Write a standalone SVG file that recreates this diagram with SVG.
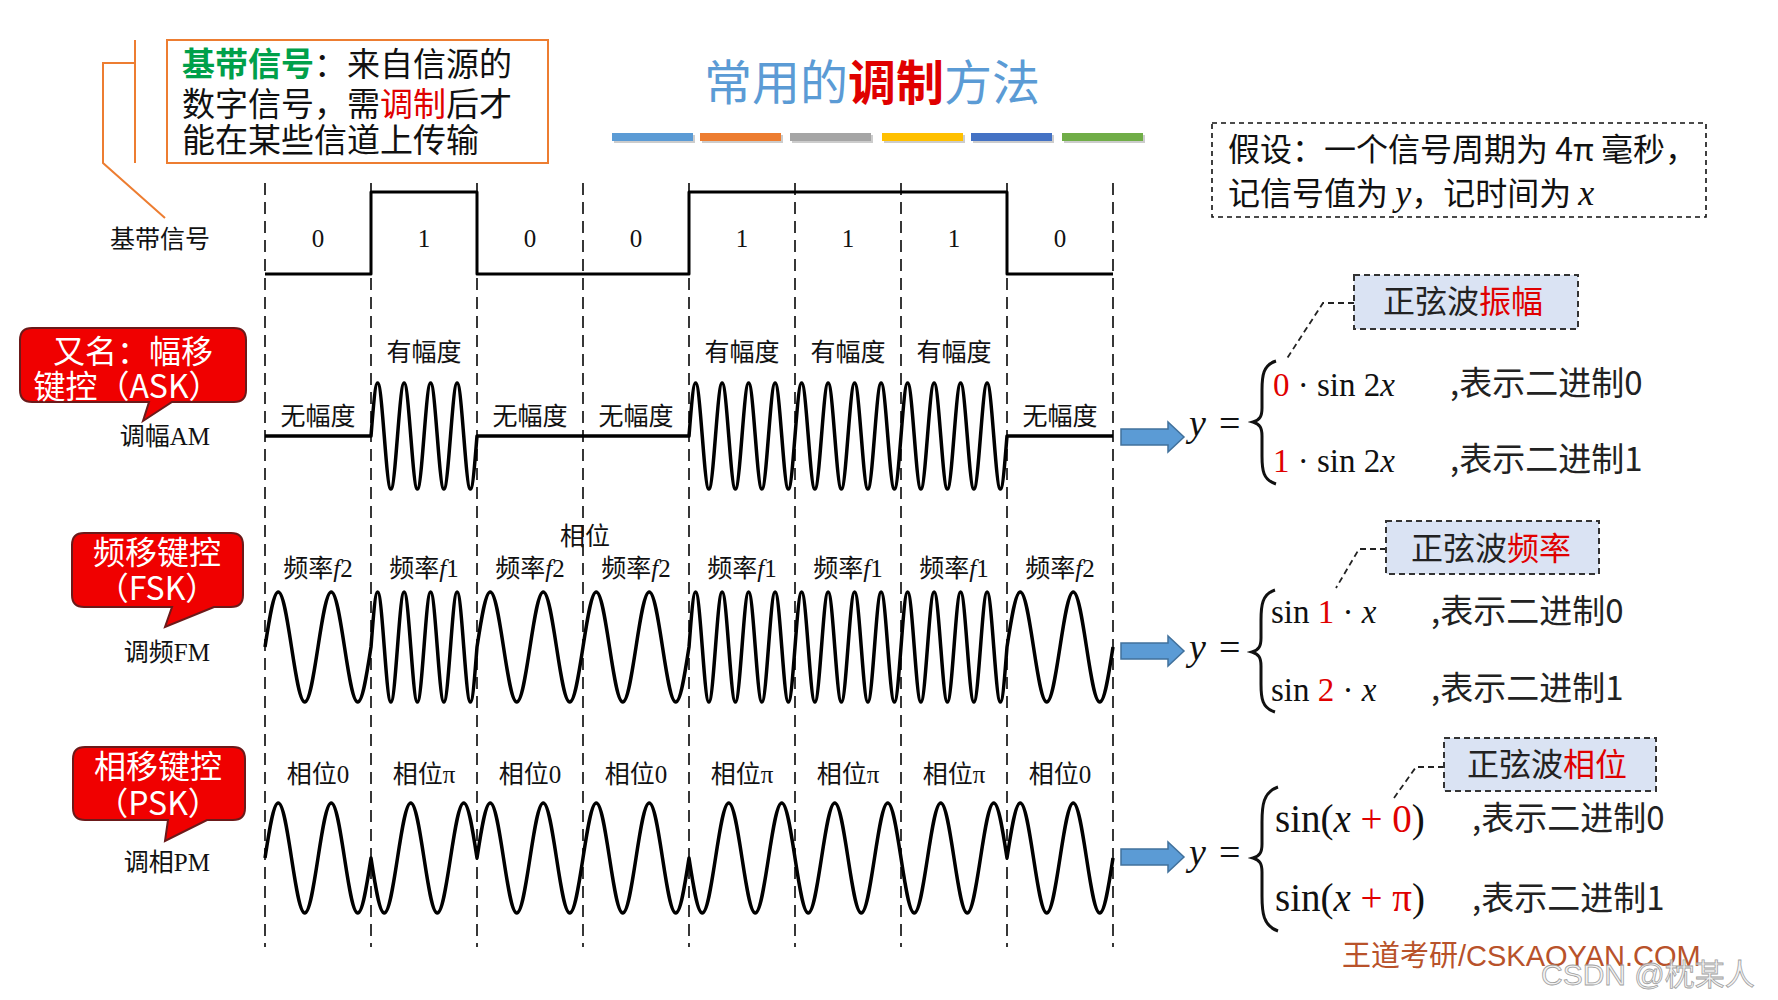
<svg xmlns="http://www.w3.org/2000/svg" width="1778" height="1000" viewBox="0 0 1778 1000">
<style>
.cn{font-family:"Noto Sans CJK SC",sans-serif;}
.sf{font-family:"Liberation Serif","Noto Sans CJK SC",serif;}
.lab{font-family:"Liberation Serif","Noto Sans CJK SC",serif;font-size:25px;fill:#111;text-anchor:middle;}
.side{font-family:"Liberation Serif","Noto Sans CJK SC",serif;font-size:25px;fill:#111;text-anchor:end;}
.dash{stroke:#222;stroke-width:1.8;stroke-dasharray:12 7;fill:none;}
.wave{stroke:#000;stroke-width:3.5;fill:none;stroke-linejoin:round;}
.bubble{fill:#f00000;stroke:#6b1a1a;stroke-width:2;}
.btxt{font-family:"Noto Sans CJK SC",sans-serif;font-size:32px;fill:#fff;text-anchor:middle;}
.call{fill:#dae3f3;stroke:#333;stroke-width:2;stroke-dasharray:6 4;}
.calltxt{font-family:"Noto Sans CJK SC",sans-serif;font-size:32px;fill:#222;}
.conn{stroke:#222;stroke-width:1.8;stroke-dasharray:6 4;fill:none;}
.eq{font-family:"Liberation Serif",serif;font-size:33px;fill:#111;}
.eqb{font-family:"Liberation Serif",serif;font-size:39px;fill:#111;}
.yeq{font-family:"Liberation Serif",serif;font-size:38px;fill:#111;}
.eqc{font-family:"Noto Sans CJK SC",sans-serif;font-size:33px;fill:#222;}
.arrow{fill:#5b9bd5;stroke:#41719c;stroke-width:1.5;}
.brace{stroke:#111;stroke-width:3;fill:none;}
.red{fill:#e00000;}
</style>
<rect width="1778" height="1000" fill="#fff"/>

<!-- title -->
<g id="title">
<text x="872" y="100" text-anchor="middle" class="cn" font-size="48" fill="#5b9bd5">常用的<tspan fill="#e00000" font-weight="bold">调制</tspan>方法</text>
<rect x="614" y="135" width="81" height="8" fill="#ccc"/>
<rect x="702" y="135" width="81" height="8" fill="#ccc"/>
<rect x="792" y="135" width="81" height="8" fill="#ccc"/>
<rect x="884" y="135" width="81" height="8" fill="#ccc"/>
<rect x="973" y="135" width="81" height="8" fill="#ccc"/>
<rect x="1064" y="135" width="81" height="8" fill="#ccc"/>
<rect x="612" y="133" width="81" height="8" fill="#5b9bd5"/>
<rect x="700" y="133" width="81" height="8" fill="#ed7d31"/>
<rect x="790" y="133" width="81" height="8" fill="#a5a5a5"/>
<rect x="882" y="133" width="81" height="8" fill="#ffc000"/>
<rect x="971" y="133" width="81" height="8" fill="#4472c4"/>
<rect x="1062" y="133" width="81" height="8" fill="#70ad47"/>
</g>

<!-- baseband note -->
<g id="note-baseband">
<rect x="167" y="40" width="381" height="123" fill="#fff" stroke="#ed7d31" stroke-width="2"/>
<text x="182" y="76" class="cn" font-size="33" fill="#111"><tspan fill="#00a04a" font-weight="bold">基带信号</tspan>：来自信源的</text>
<text x="182" y="116" class="cn" font-size="33" fill="#111">数字信号，需<tspan fill="#e00000">调制</tspan>后才</text>
<text x="182" y="152" class="cn" font-size="33" fill="#111">能在某些信道上传输</text>
<polyline points="135,40 135,163" fill="none" stroke="#ed7d31" stroke-width="2"/>
<polyline points="135,63 103,63 103,163 165,218" fill="none" stroke="#ed7d31" stroke-width="2"/>
</g>

<!-- assumption -->
<g id="note-assume">
<rect x="1212" y="123" width="494" height="94" fill="#fff" stroke="#111" stroke-width="1.6" stroke-dasharray="5 4"/>
<text x="1228" y="161" class="cn" font-size="32" fill="#111">假设：一个信号周期为 4π 毫秒，</text>
<text x="1228" y="205" class="cn" font-size="32" fill="#111">记信号值为 <tspan class="sf" font-style="italic" font-size="36">y</tspan>，记时间为 <tspan class="sf" font-style="italic" font-size="36">x</tspan></text>
</g>

<!-- grid -->
<g id="grid">
<line class="dash" x1="265" y1="183" x2="265" y2="947"/>
<line class="dash" x1="371" y1="183" x2="371" y2="947"/>
<line class="dash" x1="477" y1="183" x2="477" y2="947"/>
<line class="dash" x1="583" y1="183" x2="583" y2="947"/>
<line class="dash" x1="689" y1="183" x2="689" y2="947"/>
<line class="dash" x1="795" y1="183" x2="795" y2="947"/>
<line class="dash" x1="901" y1="183" x2="901" y2="947"/>
<line class="dash" x1="1007" y1="183" x2="1007" y2="947"/>
<line class="dash" x1="1113" y1="183" x2="1113" y2="947"/>
</g>

<!-- baseband row -->
<g id="row-baseband">
<text x="210" y="248" class="side">基带信号</text>
<path class="wave" style="stroke-width:3" d="M265,274 H371 V192 H477 V274 H689 V192 H1007 V274 H1113"/>
<text x="318" y="247" class="lab">0</text>
<text x="424" y="247" class="lab">1</text>
<text x="530" y="247" class="lab">0</text>
<text x="636" y="247" class="lab">0</text>
<text x="742" y="247" class="lab">1</text>
<text x="848" y="247" class="lab">1</text>
<text x="954" y="247" class="lab">1</text>
<text x="1060" y="247" class="lab">0</text>
</g>

<!-- ASK row -->
<g id="row-ask">
<path class="bubble" d="M32,328 H234 Q246,328 246,340 V390 Q246,402 234,402 H172 L143,421 L149,402 H32 Q20,402 20,390 V340 Q20,328 32,328 Z"/>
<text x="133" y="363" class="btxt">又名：幅移</text>
<text x="127" y="398" class="btxt">键控（ASK）</text>
<text x="210" y="445" class="side">调幅AM</text>
<text x="318" y="425" class="lab">无幅度</text>
<text x="424" y="361" class="lab">有幅度</text>
<text x="530" y="425" class="lab">无幅度</text>
<text x="636" y="425" class="lab">无幅度</text>
<text x="742" y="361" class="lab">有幅度</text>
<text x="848" y="361" class="lab">有幅度</text>
<text x="954" y="361" class="lab">有幅度</text>
<text x="1060" y="425" class="lab">无幅度</text>
<path class="wave" d="M265,436 H371
c2.1607,-27.15 4.2273,-53 6.625,-53 s4.4643,25.85 6.625,53 s4.2273,53 6.625,53 s4.4643,-25.85 6.625,-53
s4.2273,-53 6.625,-53 s4.4643,25.85 6.625,53 s4.2273,53 6.625,53 s4.4643,-25.85 6.625,-53
s4.2273,-53 6.625,-53 s4.4643,25.85 6.625,53 s4.2273,53 6.625,53 s4.4643,-25.85 6.625,-53
s4.2273,-53 6.625,-53 s4.4643,25.85 6.625,53 s4.2273,53 6.625,53 s4.4643,-25.85 6.625,-53
H689
c2.1607,-27.15 4.2273,-53 6.625,-53 s4.4643,25.85 6.625,53 s4.2273,53 6.625,53 s4.4643,-25.85 6.625,-53
s4.2273,-53 6.625,-53 s4.4643,25.85 6.625,53 s4.2273,53 6.625,53 s4.4643,-25.85 6.625,-53
s4.2273,-53 6.625,-53 s4.4643,25.85 6.625,53 s4.2273,53 6.625,53 s4.4643,-25.85 6.625,-53
s4.2273,-53 6.625,-53 s4.4643,25.85 6.625,53 s4.2273,53 6.625,53 s4.4643,-25.85 6.625,-53
s4.2273,-53 6.625,-53 s4.4643,25.85 6.625,53 s4.2273,53 6.625,53 s4.4643,-25.85 6.625,-53
s4.2273,-53 6.625,-53 s4.4643,25.85 6.625,53 s4.2273,53 6.625,53 s4.4643,-25.85 6.625,-53
s4.2273,-53 6.625,-53 s4.4643,25.85 6.625,53 s4.2273,53 6.625,53 s4.4643,-25.85 6.625,-53
s4.2273,-53 6.625,-53 s4.4643,25.85 6.625,53 s4.2273,53 6.625,53 s4.4643,-25.85 6.625,-53
s4.2273,-53 6.625,-53 s4.4643,25.85 6.625,53 s4.2273,53 6.625,53 s4.4643,-25.85 6.625,-53
s4.2273,-53 6.625,-53 s4.4643,25.85 6.625,53 s4.2273,53 6.625,53 s4.4643,-25.85 6.625,-53
s4.2273,-53 6.625,-53 s4.4643,25.85 6.625,53 s4.2273,53 6.625,53 s4.4643,-25.85 6.625,-53
s4.2273,-53 6.625,-53 s4.4643,25.85 6.625,53 s4.2273,53 6.625,53 s4.4643,-25.85 6.625,-53
H1113"/>
</g>

<!-- FSK row -->
<g id="row-fsk">
<path class="bubble" d="M84,533 H231 Q243,533 243,545 V595 Q243,607 231,607 H214 L165,627 L172,607 H84 Q72,607 72,595 V545 Q72,533 84,533 Z"/>
<text x="157" y="564" class="btxt">频移键控</text>
<text x="157" y="600" class="btxt">（FSK）</text>
<text x="210" y="661" class="side">调频FM</text>
<text x="585" y="545" class="lab">相位</text>
<text x="318" y="577" class="lab">频率<tspan font-style="italic">f</tspan>2</text>
<text x="424" y="577" class="lab">频率<tspan font-style="italic">f</tspan>1</text>
<text x="530" y="577" class="lab">频率<tspan font-style="italic">f</tspan>2</text>
<text x="636" y="577" class="lab">频率<tspan font-style="italic">f</tspan>2</text>
<text x="742" y="577" class="lab">频率<tspan font-style="italic">f</tspan>1</text>
<text x="848" y="577" class="lab">频率<tspan font-style="italic">f</tspan>1</text>
<text x="954" y="577" class="lab">频率<tspan font-style="italic">f</tspan>1</text>
<text x="1060" y="577" class="lab">频率<tspan font-style="italic">f</tspan>2</text>
<path class="wave" d="M265,647
c4.3214,-28.18 8.4547,-55 13.25,-55 s8.9286,26.82 13.25,55 s8.4547,55 13.25,55 s8.9286,-26.82 13.25,-55 s8.4547,-55 13.25,-55 s8.9286,26.82 13.25,55 s8.4547,55 13.25,55 s8.9286,-26.82 13.25,-55
c2.1607,-28.18 4.2273,-55 6.625,-55 s4.4643,26.82 6.625,55 s4.2273,55 6.625,55 s4.4643,-26.82 6.625,-55
s4.2273,-55 6.625,-55 s4.4643,26.82 6.625,55 s4.2273,55 6.625,55 s4.4643,-26.82 6.625,-55
s4.2273,-55 6.625,-55 s4.4643,26.82 6.625,55 s4.2273,55 6.625,55 s4.4643,-26.82 6.625,-55
s4.2273,-55 6.625,-55 s4.4643,26.82 6.625,55 s4.2273,55 6.625,55 s4.4643,-26.82 6.625,-55
c4.3214,-28.18 8.4547,-55 13.25,-55 s8.9286,26.82 13.25,55 s8.4547,55 13.25,55 s8.9286,-26.82 13.25,-55 s8.4547,-55 13.25,-55 s8.9286,26.82 13.25,55 s8.4547,55 13.25,55 s8.9286,-26.82 13.25,-55
s8.4547,-55 13.25,-55 s8.9286,26.82 13.25,55 s8.4547,55 13.25,55 s8.9286,-26.82 13.25,-55 s8.4547,-55 13.25,-55 s8.9286,26.82 13.25,55 s8.4547,55 13.25,55 s8.9286,-26.82 13.25,-55
c2.1607,-28.18 4.2273,-55 6.625,-55 s4.4643,26.82 6.625,55 s4.2273,55 6.625,55 s4.4643,-26.82 6.625,-55
s4.2273,-55 6.625,-55 s4.4643,26.82 6.625,55 s4.2273,55 6.625,55 s4.4643,-26.82 6.625,-55
s4.2273,-55 6.625,-55 s4.4643,26.82 6.625,55 s4.2273,55 6.625,55 s4.4643,-26.82 6.625,-55
s4.2273,-55 6.625,-55 s4.4643,26.82 6.625,55 s4.2273,55 6.625,55 s4.4643,-26.82 6.625,-55
s4.2273,-55 6.625,-55 s4.4643,26.82 6.625,55 s4.2273,55 6.625,55 s4.4643,-26.82 6.625,-55
s4.2273,-55 6.625,-55 s4.4643,26.82 6.625,55 s4.2273,55 6.625,55 s4.4643,-26.82 6.625,-55
s4.2273,-55 6.625,-55 s4.4643,26.82 6.625,55 s4.2273,55 6.625,55 s4.4643,-26.82 6.625,-55
s4.2273,-55 6.625,-55 s4.4643,26.82 6.625,55 s4.2273,55 6.625,55 s4.4643,-26.82 6.625,-55
s4.2273,-55 6.625,-55 s4.4643,26.82 6.625,55 s4.2273,55 6.625,55 s4.4643,-26.82 6.625,-55
s4.2273,-55 6.625,-55 s4.4643,26.82 6.625,55 s4.2273,55 6.625,55 s4.4643,-26.82 6.625,-55
s4.2273,-55 6.625,-55 s4.4643,26.82 6.625,55 s4.2273,55 6.625,55 s4.4643,-26.82 6.625,-55
s4.2273,-55 6.625,-55 s4.4643,26.82 6.625,55 s4.2273,55 6.625,55 s4.4643,-26.82 6.625,-55
c4.3214,-28.18 8.4547,-55 13.25,-55 s8.9286,26.82 13.25,55 s8.4547,55 13.25,55 s8.9286,-26.82 13.25,-55 s8.4547,-55 13.25,-55 s8.9286,26.82 13.25,55 s8.4547,55 13.25,55 s8.9286,-26.82 13.25,-55"/>
</g>

<!-- PSK row -->
<g id="row-psk">
<path class="bubble" d="M85,747 H233 Q245,747 245,759 V808 Q245,820 233,820 H207 L165,841 L168,820 H85 Q73,820 73,808 V759 Q73,747 85,747 Z"/>
<text x="158" y="778" class="btxt">相移键控</text>
<text x="158" y="815" class="btxt">（PSK）</text>
<text x="210" y="871" class="side">调相PM</text>
<text x="318" y="783" class="lab">相位0</text>
<text x="424" y="783" class="lab">相位π</text>
<text x="530" y="783" class="lab">相位0</text>
<text x="636" y="783" class="lab">相位0</text>
<text x="742" y="783" class="lab">相位π</text>
<text x="848" y="783" class="lab">相位π</text>
<text x="954" y="783" class="lab">相位π</text>
<text x="1060" y="783" class="lab">相位0</text>
<path class="wave" d="M265,858
c4.3214,-28.18 8.4547,-55 13.25,-55 s8.9286,26.82 13.25,55 s8.4547,55 13.25,55 s8.9286,-26.82 13.25,-55 s8.4547,-55 13.25,-55 s8.9286,26.82 13.25,55 s8.4547,55 13.25,55 s8.9286,-26.82 13.25,-55
c4.3214,28.18 8.4547,55 13.25,55 s8.9286,-26.82 13.25,-55 s8.4547,-55 13.25,-55 s8.9286,26.82 13.25,55 s8.4547,55 13.25,55 s8.9286,-26.82 13.25,-55 s8.4547,-55 13.25,-55 s8.9286,26.82 13.25,55
c4.3214,-28.18 8.4547,-55 13.25,-55 s8.9286,26.82 13.25,55 s8.4547,55 13.25,55 s8.9286,-26.82 13.25,-55 s8.4547,-55 13.25,-55 s8.9286,26.82 13.25,55 s8.4547,55 13.25,55 s8.9286,-26.82 13.25,-55
c4.3214,-28.18 8.4547,-55 13.25,-55 s8.9286,26.82 13.25,55 s8.4547,55 13.25,55 s8.9286,-26.82 13.25,-55 s8.4547,-55 13.25,-55 s8.9286,26.82 13.25,55 s8.4547,55 13.25,55 s8.9286,-26.82 13.25,-55
c4.3214,28.18 8.4547,55 13.25,55 s8.9286,-26.82 13.25,-55 s8.4547,-55 13.25,-55 s8.9286,26.82 13.25,55 s8.4547,55 13.25,55 s8.9286,-26.82 13.25,-55 s8.4547,-55 13.25,-55 s8.9286,26.82 13.25,55
c4.3214,28.18 8.4547,55 13.25,55 s8.9286,-26.82 13.25,-55 s8.4547,-55 13.25,-55 s8.9286,26.82 13.25,55 s8.4547,55 13.25,55 s8.9286,-26.82 13.25,-55 s8.4547,-55 13.25,-55 s8.9286,26.82 13.25,55
c4.3214,28.18 8.4547,55 13.25,55 s8.9286,-26.82 13.25,-55 s8.4547,-55 13.25,-55 s8.9286,26.82 13.25,55 s8.4547,55 13.25,55 s8.9286,-26.82 13.25,-55 s8.4547,-55 13.25,-55 s8.9286,26.82 13.25,55
c4.3214,-28.18 8.4547,-55 13.25,-55 s8.9286,26.82 13.25,55 s8.4547,55 13.25,55 s8.9286,-26.82 13.25,-55 s8.4547,-55 13.25,-55 s8.9286,26.82 13.25,55 s8.4547,55 13.25,55 s8.9286,-26.82 13.25,-55"/>
</g>

<!-- connectors -->
<g id="connectors">
<path class="arrow" d="M1121,429 H1168 V422 L1184,437 L1168,452 V445 H1121 Z"/>
<path class="arrow" d="M1121,643 H1168 V636 L1184,651 L1168,666 V659 H1121 Z"/>
<path class="arrow" d="M1121,849 H1168 V842 L1184,857 L1168,872 V865 H1121 Z"/>
<polyline class="conn" points="1354,303 1323,303 1286,360"/>
<polyline class="conn" points="1386,549 1359,549 1336,588"/>
<polyline class="conn" points="1444,767 1416,767 1394,798"/>
</g>

<!-- ASK formula -->
<g id="formula-ask">
<text x="1189" y="436" class="yeq"><tspan font-style="italic">y</tspan><tspan x="1219">=</tspan></text>
<path class="brace" d="M1276,361 C1263,365 1262,376 1262,390 L1262,408 C1262,416 1260,420 1253,422 C1260,424 1262,428 1262,436 L1262,456 C1262,470 1263,480 1276,484"/>
<text x="1273" y="396" class="eq"><tspan class="red">0</tspan> · sin 2<tspan font-style="italic">x</tspan></text>
<text x="1450" y="395" class="eqc">,表示二进制0</text>
<text x="1273" y="472" class="eq"><tspan class="red">1</tspan> · sin 2<tspan font-style="italic">x</tspan></text>
<text x="1450" y="471" class="eqc">,表示二进制1</text>
<rect class="call" x="1354" y="275" width="224" height="54"/>
<text x="1383" y="313" class="calltxt">正弦波<tspan class="red">振幅</tspan></text>
</g>

<!-- FSK formula -->
<g id="formula-fsk">
<text x="1189" y="660" class="yeq"><tspan font-style="italic">y</tspan><tspan x="1219">=</tspan></text>
<path class="brace" d="M1275,590 C1262,594 1261,606 1261,620 L1261,638 C1261,646 1259,650 1252,652 C1259,654 1261,658 1261,666 L1261,684 C1261,698 1262,708 1275,712"/>
<text x="1271" y="623" class="eq">sin <tspan class="red">1</tspan> · <tspan font-style="italic">x</tspan></text>
<text x="1431" y="623" class="eqc">,表示二进制0</text>
<text x="1271" y="701" class="eq">sin <tspan class="red">2</tspan> · <tspan font-style="italic">x</tspan></text>
<text x="1431" y="700" class="eqc">,表示二进制1</text>
<rect class="call" x="1386" y="521" width="213" height="53"/>
<text x="1411" y="560" class="calltxt">正弦波<tspan class="red">频率</tspan></text>
</g>

<!-- PSK formula -->
<g id="formula-psk">
<text x="1189" y="865" class="yeq"><tspan font-style="italic">y</tspan><tspan x="1219">=</tspan></text>
<path class="brace" d="M1278,787 C1263,792 1262,806 1262,822 L1262,844 C1262,852 1260,856 1253,858 C1260,860 1262,864 1262,872 L1262,896 C1262,912 1263,926 1278,931"/>
<text x="1275" y="832" class="eqb">sin(<tspan font-style="italic">x</tspan><tspan class="red"> + 0</tspan>)</text>
<text x="1472" y="830" class="eqc">,表示二进制0</text>
<text x="1275" y="911" class="eqb">sin(<tspan font-style="italic">x</tspan><tspan class="red"> + π</tspan>)</text>
<text x="1472" y="910" class="eqc">,表示二进制1</text>
<rect class="call" x="1444" y="738" width="212" height="53"/>
<text x="1467" y="776" class="calltxt">正弦波<tspan class="red">相位</tspan></text>
</g>

<!-- watermarks -->
<g id="watermark">
<text x="1342" y="966" font-family="Liberation Sans,Noto Sans CJK SC,sans-serif" font-size="29" fill="#b8522a">王道考研/CSKAOYAN.COM</text>
<text x="1541" y="985" font-family="Liberation Sans,Noto Sans CJK SC,sans-serif" font-size="30" fill="#f0f0f0" fill-opacity="0.8" stroke="#a0a0a0" stroke-width="0.8">CSDN @枕某人</text>
</g>
</svg>
